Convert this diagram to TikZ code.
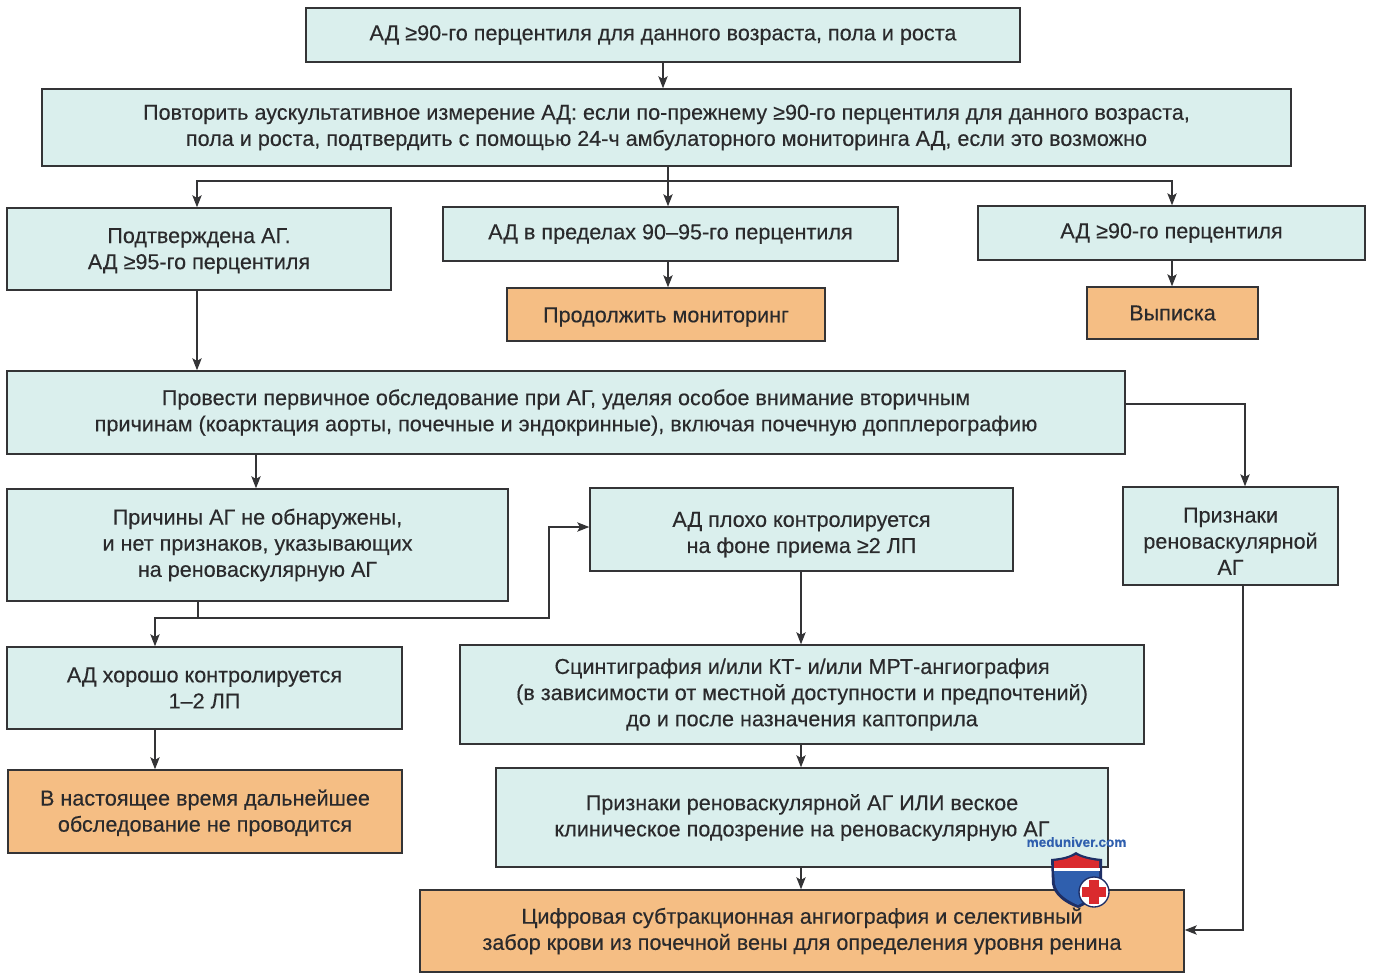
\documentclass[tikz,border=0pt]{standalone}
\usepackage{fontspec}
\setmainfont{Liberation Sans}[FakeBold=0.12]
\newfontfamily\bodyfont{Liberation Sans}[FakeBold=0.25]
\usetikzlibrary{arrows.meta}
\definecolor{tealbox}{HTML}{DAEFED}
\definecolor{orangebox}{HTML}{F5BE84}
\definecolor{inkline}{HTML}{343436}
\definecolor{inktext}{HTML}{2A2A2C}
\definecolor{logoblue}{HTML}{2F5FAE}
\definecolor{logored}{HTML}{DA2A2E}
\definecolor{logonavy}{HTML}{1E2F66}
\tikzset{
  x=0.75pt, y=-0.75pt,
  flowbox/.style={draw=inkline, line width=1.1pt, inner sep=0pt, align=center, anchor=center,
    font=\bodyfont\fontsize{16.2pt}{19.6pt}\selectfont, text=inktext},
  plainbox/.style={flowbox, fill=tealbox},
  resultbox/.style={flowbox, fill=orangebox},
  wh/.style 2 args={minimum width=#1*0.75pt, minimum height=#2*0.75pt},
  link/.style={draw=inkline, line width=1pt},
  arrowlink/.style={link, -{Stealth[length=9pt,width=7pt,inset=2pt]}},
}
\begin{document}
\begin{tikzpicture}
\useasboundingbox (0,0) rectangle (1373,977);
\fill[white] (0,0) rectangle (1373,977);

% Screening and confirmation
\node[plainbox, wh={714}{54}] (screen) at (663,35) {АД ≥90-го перцентиля для данного возраста, пола и роста};
\node[plainbox, wh={1249}{77}] (repeat) at (666.5,127.5) {Повторить аускультативное измерение АД: если по-прежнему ≥90-го перцентиля для данного возраста,\\пола и роста, подтвердить с помощью 24-ч амбулаторного мониторинга АД, если это возможно};

% Three outcomes of the repeat measurement
\node[plainbox, wh={384}{82}] (confirmed) at (199,249) {\rule{0pt}{14pt}Подтверждена АГ.\\АД ≥95-го перцентиля};
\node[plainbox, wh={455}{54}] (range) at (670.5,234) {АД в пределах 90–95-го перцентиля};
\node[plainbox, wh={387}{54}] (above) at (1171.5,233) {АД ≥90-го перцентиля};
\node[resultbox, wh={318}{53}] (monitor) at (666,314.5) {\rule{0pt}{15pt}Продолжить мониторинг};
\node[resultbox, wh={171}{52}] (discharge) at (1172.5,313) {Выписка};

% Primary work-up
\node[plainbox, wh={1118}{83}] (primary) at (566,412.5) {Провести первичное обследование при АГ, уделяя особое внимание вторичным\\причинам (коарктация аорты, почечные и эндокринные), включая почечную допплерографию};

\node[plainbox, wh={501}{112}] (nocause) at (257.5,545) {Причины АГ не обнаружены,\\и нет признаков, указывающих\\на реноваскулярную АГ};
\node[plainbox, wh={423}{83}] (poor) at (801.5,529.5) {\rule{0pt}{19pt}АД плохо контролируется\\на фоне приема ≥2 ЛП};
\node[plainbox, wh={215}{98}] (signs) at (1230.5,536) {\rule{0pt}{19pt}Признаки\\реноваскулярной\\АГ};

\node[plainbox, wh={395}{82}] (good) at (204.5,688) {АД хорошо контролируется\\1–2 ЛП};
\node[plainbox, wh={684}{99}] (scinti) at (802,694.5) {Сцинтиграфия и/или КТ- и/или МРТ-ангиография\\(в зависимости от местной доступности и предпочтений)\\до и после назначения каптоприла};
\node[resultbox, wh={394}{83}] (nofurther) at (205,811.5) {\rule{0pt}{14pt}В настоящее время дальнейшее\\обследование не проводится};
\node[plainbox, wh={612}{99}] (suspect) at (802,817.5) {Признаки реноваскулярной АГ ИЛИ веское\\клиническое подозрение на реноваскулярную АГ};
\node[resultbox, wh={764}{82}] (dsa) at (802,931) {Цифровая субтракционная ангиография и селективный\\забор крови из почечной вены для определения уровня ренина};

% Connectors
\draw[arrowlink] (screen.south) -- (repeat.north -| screen.south);
\coordinate (fork) at (668,181);
\draw[link] (repeat.south -| fork) -- (fork);
\draw[arrowlink] (fork) -| (confirmed.north -| 197,0);
\draw[arrowlink] (fork) -- (range.north -| fork);
\draw[arrowlink] (fork) -| (above.north -| 1172,0);
\draw[arrowlink] (range.south -| fork) -- (monitor.north -| fork);
\draw[arrowlink] (above.south -| 1172,0) -- (discharge.north -| 1172,0);
\draw[arrowlink] (confirmed.south -| 197,0) -- (primary.north -| 197,0);
\draw[arrowlink] (primary.south -| 256,0) -- (nocause.north -| 256,0);
\coordinate (turn) at (198,618);
\draw[link] (nocause.south -| turn) -- (turn);
\draw[arrowlink] (turn) -| (good.north -| 155,0);
\draw[arrowlink] (turn) -- (549,618) |- (poor.west |- 0,527);
\draw[arrowlink] (primary.east |- 0,404) -| (signs.north -| 1245,0);
\draw[arrowlink] (poor.south -| 801,0) -- (scinti.north -| 801,0);
\draw[arrowlink] (good.south -| 155,0) -- (nofurther.north -| 155,0);
\draw[arrowlink] (scinti.south -| 801,0) -- (suspect.north -| 801,0);
\draw[arrowlink] (suspect.south -| 801,0) -- (dsa.north -| 801,0);
\draw[arrowlink] (signs.south -| 1243,0) |- (dsa.east |- 0,930);

% Site badge: shield with a cross
\node[text=logoblue, font=\rmfamily\bfseries\fontsize{10.2pt}{11pt}\selectfont, inner sep=0pt] (site) at (1076.5,842) {meduniver.com};
\path[fill=logonavy] (1051,859) .. controls (1063,858) and (1070,856) .. (1076,852)
   .. controls (1082,856) and (1091,858) .. (1102,859) -- (1102,884)
   .. controls (1100,895) and (1090,903) .. (1078,908)
   .. controls (1064,903) and (1054,895) .. (1052,884) -- cycle;
\path[fill=logoblue] (1054,871) -- (1099,871) -- (1099,884)
   .. controls (1097,893) and (1088,900) .. (1078,905)
   .. controls (1066,900) and (1057,893) .. (1055,884) -- cycle;
\path[fill=logored] (1054,861) .. controls (1064,860) and (1070,858) .. (1076,855)
   .. controls (1082,858) and (1090,860) .. (1099,861) -- (1099,868) -- (1054,868) -- cycle;
\fill[white] (1053.5,868) rectangle (1099.5,871);
\fill[white, draw=logonavy, line width=1pt] (1094,892) circle[radius=15];
\fill[logored] (1089,880) rectangle (1099,904);
\fill[logored] (1082,887) rectangle (1106,897);
\end{tikzpicture}
\end{document}
